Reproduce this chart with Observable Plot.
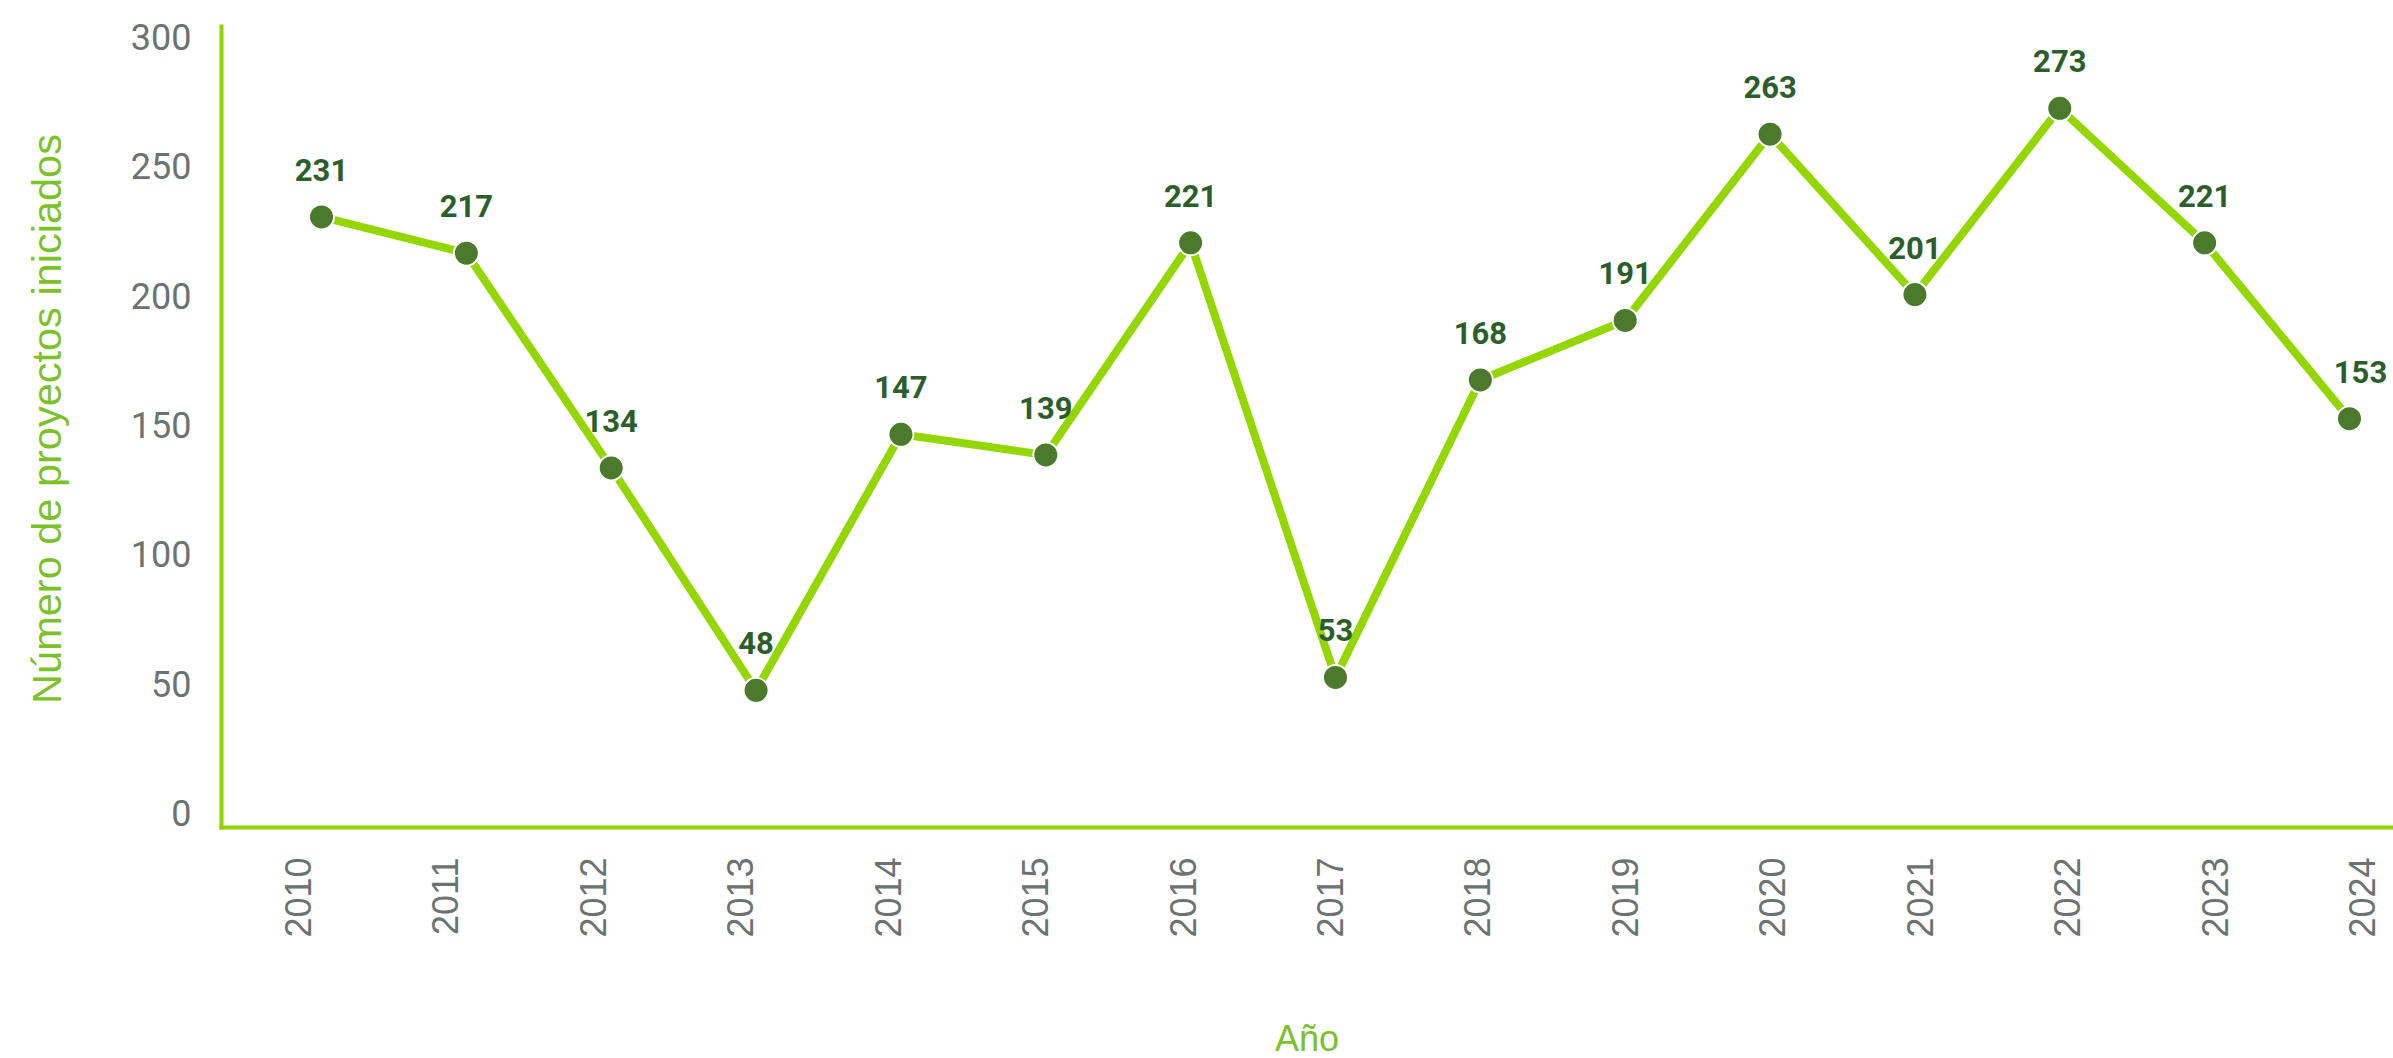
<!DOCTYPE html>
<html>
<head>
<meta charset="utf-8">
<script src="https://cdn.jsdelivr.net/npm/d3@7"></script>
<script src="https://cdn.jsdelivr.net/npm/@observablehq/plot@0.6"></script>
<style>
  html, body { margin: 0; padding: 0; background: #ffffff; }
  #wrap { position: relative; width: 2393px; height: 1058px; overflow: hidden; }
  #main, #xlabels { position: absolute; left: 0; }
  #main { top: 0; }
  #xlabels { top: 827px; }
  #xtitle {
    position: absolute; left: 0; width: 2393px; top: 1021px;
    padding-left: 221px; box-sizing: border-box;
    text-align: center; font-family: "Liberation Sans", Arial, sans-serif;
    font-size: 36px; line-height: 36px; color: #7dc12a;
  }
</style>
</head>
<body>
<div id="wrap">
  <div id="main"></div>
  <div id="xlabels"></div>
  <div id="xtitle">Año</div>
</div>
<script>
// ---- data ----
const years = [2010, 2011, 2012, 2013, 2014, 2015, 2016, 2017, 2018, 2019, 2020, 2021, 2022, 2023, 2024];
const proyectos = [231, 217, 134, 48, 147, 139, 221, 53, 168, 191, 263, 201, 273, 221, 153];
const yTicks = [0, 50, 100, 150, 200, 250, 300];
const yTitle = "Número de proyectos iniciados";

// ---- styles ----
const axisGreen = "#8fd300";
const lineGreen = "#94d600";
const dotGreen = "#4b7a2c";
const labelGreen = "#2b5e2b";
const titleGreen = "#7dc12a";
const tickGray = "#6b7370";

const data = years.map((y, i) => ({year: y, value: proyectos[i]}));
const lastYear = years[years.length - 1];

const labelStyle = {
  x: "year", y: "value", text: d => String(d.value), dy: -46,
  fontSize: 31, fontWeight: "bold", fontFamily: "Roboto", fill: labelGreen
};

const main = Plot.plot({
  width: 2393,
  height: 840,
  marginTop: 26,
  marginBottom: 13,
  marginLeft: 221,
  marginRight: 0,
  x: {type: "linear", domain: [2010, 2024], range: [321, 2349], axis: null},
  y: {domain: [0, 300], range: [814, 38], axis: null},
  style: {background: "transparent", overflow: "visible"},
  marks: [
    Plot.frame({anchor: "left", stroke: axisGreen, strokeWidth: 4}),
    Plot.frame({anchor: "bottom", stroke: axisGreen, strokeWidth: 4}),
    Plot.axisY({
      ticks: yTicks, tickSize: 0, tickPadding: 30, label: null,
      fontSize: 36, fontFamily: "Roboto", fill: tickGray
    }),
    Plot.text([yTitle], {
      frameAnchor: "left", rotate: -90, dx: -174, dy: -8,
      fontSize: 41.5, fontFamily: "Liberation Sans", fill: titleGreen, textAnchor: "middle"
    }),
    Plot.line(data, {x: "year", y: "value", stroke: lineGreen, strokeWidth: 8, strokeLinejoin: "miter"}),
    Plot.dot(data, {x: "year", y: "value", r: 12.5, fill: dotGreen, stroke: "white", strokeWidth: 2}),
    Plot.text(data, {...labelStyle, filter: d => d.year !== lastYear}),
    Plot.text(data, {...labelStyle, filter: d => d.year === lastYear, dx: 11})
  ]
});
document.getElementById("main").appendChild(main);

const xl = Plot.plot({
  width: 2393,
  height: 150,
  marginTop: 30,
  marginBottom: 0,
  marginLeft: 0,
  marginRight: 0,
  x: {type: "linear", domain: [2010, 2024], range: [285, 2349], axis: null},
  style: {background: "transparent", overflow: "visible"},
  marks: [
    Plot.text(years, {
      x: d => d, text: d => String(d), frameAnchor: "top", rotate: -90,
      textAnchor: "end", fontSize: 36, fontFamily: "Liberation Sans", fill: tickGray
    })
  ]
});
document.getElementById("xlabels").appendChild(xl);
</script>
</body>
</html>
